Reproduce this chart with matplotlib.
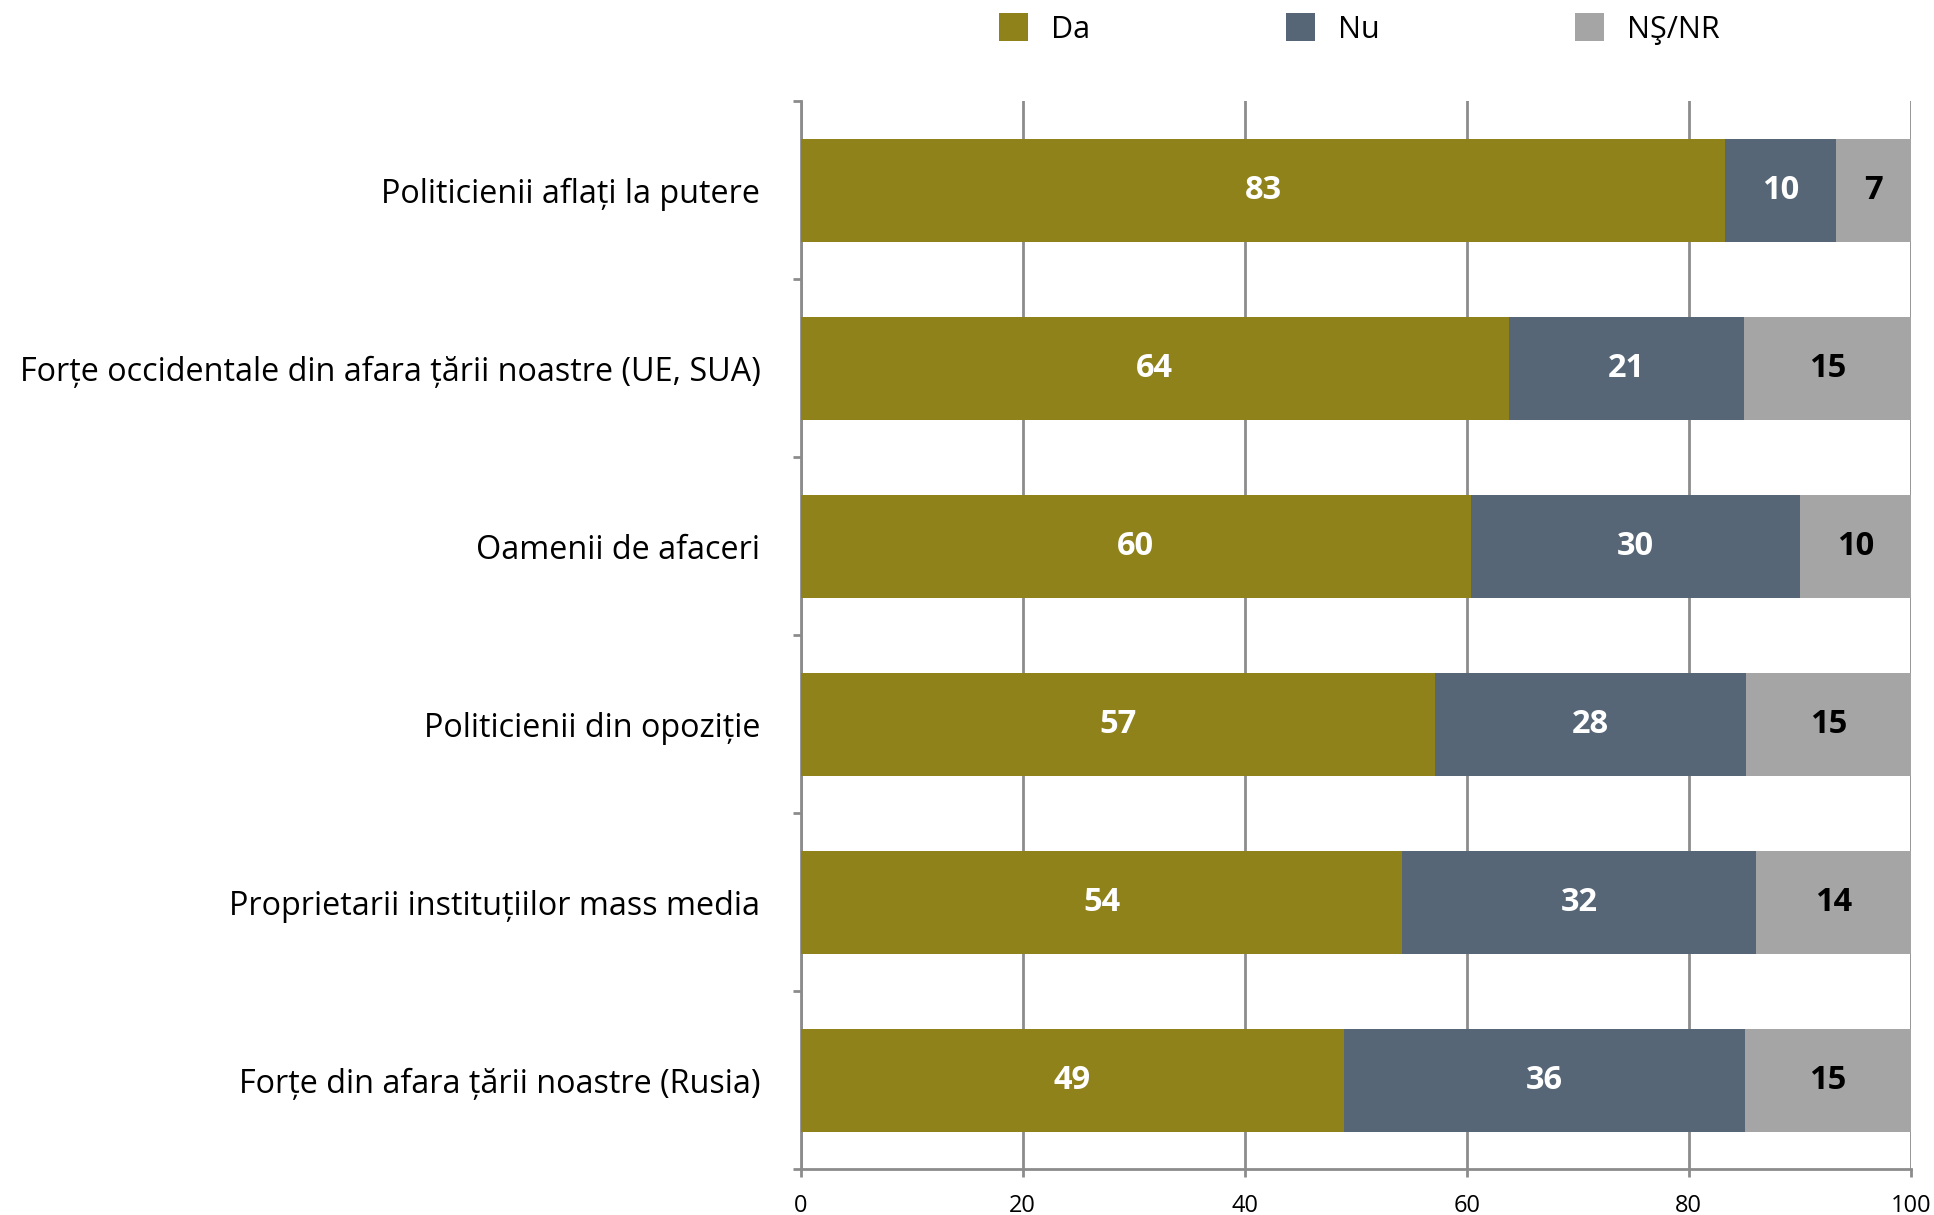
import numpy as np
import matplotlib
matplotlib.use("Agg")
from matplotlib import pyplot as plt

plt.rcParams['font.family'] = ['Open Sans', 'DejaVu Sans']

categories = [
    "Politicienii aflați la putere",
    "Forțe occidentale din afara țării noastre (UE, SUA)",
    "Oamenii de afaceri",
    "Politicienii din opoziție",
    "Proprietarii instituțiilor mass media",
    "Forțe din afara țării noastre (Rusia)",
]
da = [83.3, 63.8, 60.4, 57.1, 54.2, 48.9]
nu = [10.0, 21.2, 29.6, 28.1, 31.9, 36.2]
ns = [6.7, 15.0, 10.0, 14.8, 13.9, 14.9]
series_names = ["Da", "Nu", "NŞ/NR"]
colors = ["#8F821A", "#566676", "#A5A5A5"]
text_colors = ["white", "white", "black"]

fig = plt.figure(figsize=(19.34, 12.15), dpi=100)
ax = fig.add_axes([0.414, 0.0375, 0.574, 0.879])

y = np.arange(len(categories))
left = np.zeros(len(categories))
for vals, name, c, tc in zip([da, nu, ns], series_names, colors, text_colors):
    vals = np.array(vals)
    ax.barh(y, vals, left=left, height=0.58, color=c, label=name, zorder=3)
    for yi, l, v in zip(y, left, vals):
        ax.text(l + v / 2, yi, f"{v:.0f}", ha="center", va="center",
                color=tc, fontsize=23.5, fontweight="bold", zorder=4)
    left += vals

ax.set_xlim(0, 100)
ax.set_ylim(len(categories) - 0.5, -0.5)
ax.set_xticks([0, 20, 40, 60, 80, 100])
ax.set_yticks(y)
ax.set_yticklabels(categories, fontsize=23.3)
ax.set_yticks(np.arange(-0.5, len(categories)), minor=True)
ax.tick_params(axis="y", which="major", length=0, pad=29)
ax.tick_params(axis="y", which="minor", length=6, width=2, color="#8C8C8C")
ax.tick_params(axis="x", length=6, width=2, color="#8C8C8C", labelsize=17, pad=12)
ax.grid(axis="x", color="#8C8C8C", linewidth=2, zorder=0)
for s in ["top", "right"]:
    ax.spines[s].set_visible(False)
for s in ["left", "bottom"]:
    ax.spines[s].set_color("#8C8C8C")
    ax.spines[s].set_linewidth(2)

fig.legend(loc="upper center", bbox_to_anchor=(0.703, 1.012), ncol=3, frameon=False,
           fontsize=22, handlelength=0.95, handleheight=1.05, handletextpad=0.75,
           columnspacing=6.4)

fig.savefig("out.png", dpi=100)
